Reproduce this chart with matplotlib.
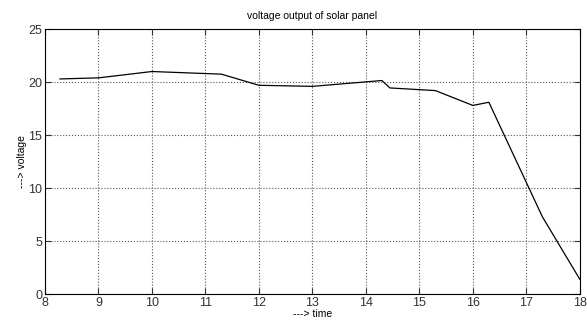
import matplotlib
matplotlib.use("Agg")
import matplotlib.pyplot as plt

# datos
hora = [8.28, 9.0, 10.0, 11.3, 12.0, 13.0, 14.3, 14.45, 15.3, 16.0, 16.3, 17.3, 18.0]
voltaje = [20.3, 20.4, 21.0, 20.75, 19.7, 19.6, 20.15, 19.45, 19.2, 17.8, 18.1, 7.3, 1.4]

xticks = [8, 9, 10, 11, 12, 13, 14, 15, 16, 17, 18]
yticks = [0, 5, 10, 15, 20, 25]

plt.rcParams['font.family'] = ['Liberation Sans', 'DejaVu Sans']

fig = plt.figure(figsize=(5.87, 3.2), dpi=100)
ax = fig.add_axes([0.0767, 0.081, 0.911, 0.828])

ax.plot(hora, voltaje, color='black', linewidth=0.9)

ax.set_xlim(8, 18)
ax.set_ylim(0, 25)
ax.set_xticks(xticks)
ax.set_yticks(yticks)
ax.tick_params(direction='in', top=True, right=True, labelsize=9, length=4, pad=2, colors='#333333')
ax.grid(True, linestyle=':', color='#555555', linewidth=0.8)

ax.set_title('voltage output of solar panel', fontsize=7.5, pad=7)
ax.set_xlabel('---> time', fontsize=7.5, labelpad=0)
ax.set_ylabel('---> voltage', fontsize=7.5, labelpad=1)

fig.savefig('out.png', dpi=100)
